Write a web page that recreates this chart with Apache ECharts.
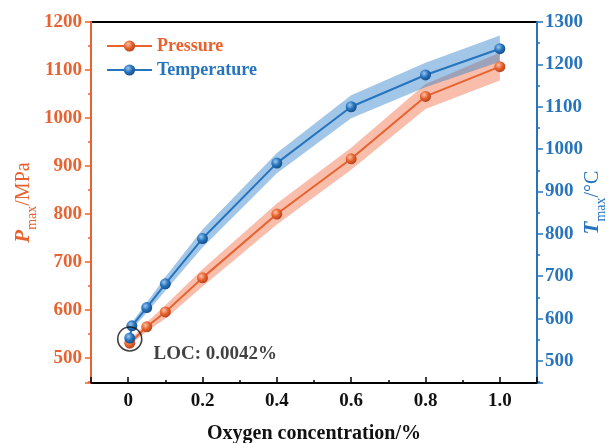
<!DOCTYPE html>
<html><head><meta charset="utf-8">
<script src="https://cdn.jsdelivr.net/npm/echarts@6/dist/echarts.min.js"></script>
<style>html,body{margin:0;padding:0;background:#fff}#c{width:611px;height:443px}</style>
</head><body><div id="c"></div>
<script>
// ---- data ----
const pX = [0.0042, 0.05, 0.1, 0.2, 0.4, 0.6, 0.8, 1.0];
const pressure = [531, 565, 596, 667, 800, 915, 1045, 1107];
const pressureLo = [526, 556, 582, 649, 778, 892, 1019, 1078];
const pressureHi = [536, 574, 610, 685, 822, 938, 1071, 1136];

const tX = [0.0042, 0.01, 0.05, 0.1, 0.2, 0.4, 0.6, 0.8, 1.0];
const temperature = [554, 583, 626, 682, 789, 967, 1100, 1175, 1237];
const temperatureLo = [548, 575, 614, 666, 768, 943, 1073, 1146, 1206];
const temperatureHi = [560, 591, 638, 698, 810, 991, 1127, 1204, 1268];

const locX = 0.0042, locY = 552;
const locText = 'LOC: 0.0042%';

const ORANGE = '#E8622F', BLUE = '#2674BE';
const FONT = '"Liberation Serif", "Times New Roman", serif';

function sphere(c, light, dark) {
  return {type: 'radial', x: 0.38, y: 0.35, r: 0.65,
    colorStops: [{offset: 0, color: light}, {offset: 0.55, color: c}, {offset: 1, color: dark}]};
}
const zip = (xs, ys) => xs.map((x, i) => [x, ys[i]]);
const bandRows = (xs, lo, hi) => xs.map((x, i) => [x, lo[i], hi[i]]);

function bandSeries(rows, yAxisIndex, fill) {
  return {
    type: 'custom', yAxisIndex: yAxisIndex, data: rows, silent: true, z: 1,
    encode: {x: 0, y: [1, 2]},
    renderItem: function (params, api) {
      if (params.dataIndex !== 0) return null;
      const top = rows.map(r => api.coord([r[0], r[2]]));
      const bot = rows.map(r => api.coord([r[0], r[1]])).reverse();
      return {type: 'polygon', shape: {points: top.concat(bot)},
        style: {fill: fill, stroke: null}};
    }
  };
}

const chart = echarts.init(document.getElementById('c'), null, {renderer: 'canvas'});
const tickLabel = (color) => ({color: color, fontFamily: FONT, fontWeight: 'bold', fontSize: 19,
  formatter: v => String(v)});

chart.setOption({
  animation: false,
  backgroundColor: '#fff',
  grid: {left: 91, right: 74, top: 22, bottom: 60, outerBoundsMode: 'none', containLabel: false,
    show: true, borderColor: '#000', borderWidth: 2, backgroundColor: 'transparent'},
  legend: {
    left: 101, top: 32, orient: 'vertical', itemWidth: 45, itemHeight: 14, itemGap: 6,
    data: [
      {name: 'Pressure', textStyle: {color: ORANGE}},
      {name: 'Temperature', textStyle: {color: BLUE}}
    ],
    textStyle: {fontFamily: FONT, fontWeight: 'bold', fontSize: 18}
  },
  xAxis: {
    type: 'value', min: -0.1, max: 1.1, splitNumber: 6,
    name: 'Oxygen concentration/%', nameLocation: 'middle', nameGap: 41,
    nameTextStyle: {color: '#111', fontFamily: FONT, fontWeight: 'bold', fontSize: 20},
    axisLine: {onZero: false, lineStyle: {color: '#000', width: 2}},
    axisTick: {inside: true, length: 6, lineStyle: {color: '#000', width: 1.5}},
    minorTick: {show: true, splitNumber: 2, length: 3, lineStyle: {color: '#000', width: 1.5}},
    axisLabel: Object.assign(tickLabel('#111'), {margin: 9, showMinLabel: false, showMaxLabel: false,
      formatter: v => (Math.abs(v) < 1e-9 ? '0' : v.toFixed(1))}),
    splitLine: {show: false}
  },
  yAxis: [{
    type: 'value', position: 'left', min: 448, max: 1200, splitNumber: 8,
    name: '{i|P}{s|max}{n|/MPa}', nameLocation: 'middle', nameGap: 57, nameRotate: 90, nameMoveOverlap: false,
    nameTextStyle: {color: ORANGE, rich: {
      i: {fontFamily: FONT, fontStyle: 'italic', fontWeight: 'bold', fontSize: 21, color: ORANGE, lineHeight: 24, verticalAlign: 'bottom'},
      s: {fontFamily: FONT, fontSize: 14, color: ORANGE, verticalAlign: 'bottom', lineHeight: 24, padding: [0, 0, -5, 0]},
      n: {fontFamily: FONT, fontSize: 20, color: ORANGE, lineHeight: 24, verticalAlign: 'bottom'}
    }},
    axisLine: {show: true, onZero: false, lineStyle: {color: ORANGE, width: 2}},
    axisTick: {show: true, length: 6, lineStyle: {color: ORANGE, width: 1.5}},
    minorTick: {show: true, splitNumber: 2, length: 3, lineStyle: {color: ORANGE, width: 1.5}},
    axisLabel: Object.assign(tickLabel(ORANGE), {margin: 9, showMinLabel: false}),
    splitLine: {show: false}
  }, {
    type: 'value', position: 'right', min: 448, max: 1300, splitNumber: 8,
    name: '{i|T}{s|max}{n|/°C}', nameLocation: 'middle', nameGap: 42, nameRotate: 90, nameMoveOverlap: false,
    nameTextStyle: {color: BLUE, rich: {
      i: {fontFamily: FONT, fontStyle: 'italic', fontWeight: 'bold', fontSize: 21, color: BLUE, lineHeight: 24, verticalAlign: 'bottom'},
      s: {fontFamily: FONT, fontSize: 14, color: BLUE, verticalAlign: 'bottom', lineHeight: 24, padding: [0, 0, -5, 0]},
      n: {fontFamily: FONT, fontSize: 20, color: BLUE, lineHeight: 24, verticalAlign: 'bottom'}
    }},
    axisLine: {show: true, onZero: false, lineStyle: {color: BLUE, width: 2}},
    axisTick: {show: true, length: 6, lineStyle: {color: BLUE, width: 1.5}},
    minorTick: {show: true, splitNumber: 2, length: 3, lineStyle: {color: BLUE, width: 1.5}},
    axisLabel: Object.assign(tickLabel(BLUE), {margin: 8, showMinLabel: false}),
    splitLine: {show: false}
  }],
  series: [
    bandSeries(bandRows(pX, pressureLo, pressureHi), 0, 'rgba(240,118,80,0.48)'),
    bandSeries(bandRows(tX, temperatureLo, temperatureHi), 1, 'rgba(48,128,202,0.45)'),
    {name: 'Pressure', type: 'line', yAxisIndex: 0, data: zip(pX, pressure), symbol: 'circle', symbolSize: 11,
     lineStyle: {color: ORANGE, width: 2}, itemStyle: {color: sphere(ORANGE, '#FBC3A8', '#B8451C')}, z: 3},
    {name: 'Temperature', type: 'line', yAxisIndex: 1, data: zip(tX, temperature), symbol: 'circle', symbolSize: 11,
     lineStyle: {color: BLUE, width: 2}, itemStyle: {color: sphere(BLUE, '#9CC8EE', '#17508A')}, z: 4},
    {type: 'scatter', yAxisIndex: 1, data: [[locX, locY]], symbol: 'circle', symbolSize: 24,
     itemStyle: {color: 'rgba(0,0,0,0)', borderColor: '#111', borderWidth: 1.6}, z: 5,
     label: {show: true, position: 'right', distance: 11, offset: [0, 15], formatter: locText,
       color: '#111', fontFamily: FONT, fontWeight: 'bold', fontSize: 19}}
  ]
});
</script></body></html>
